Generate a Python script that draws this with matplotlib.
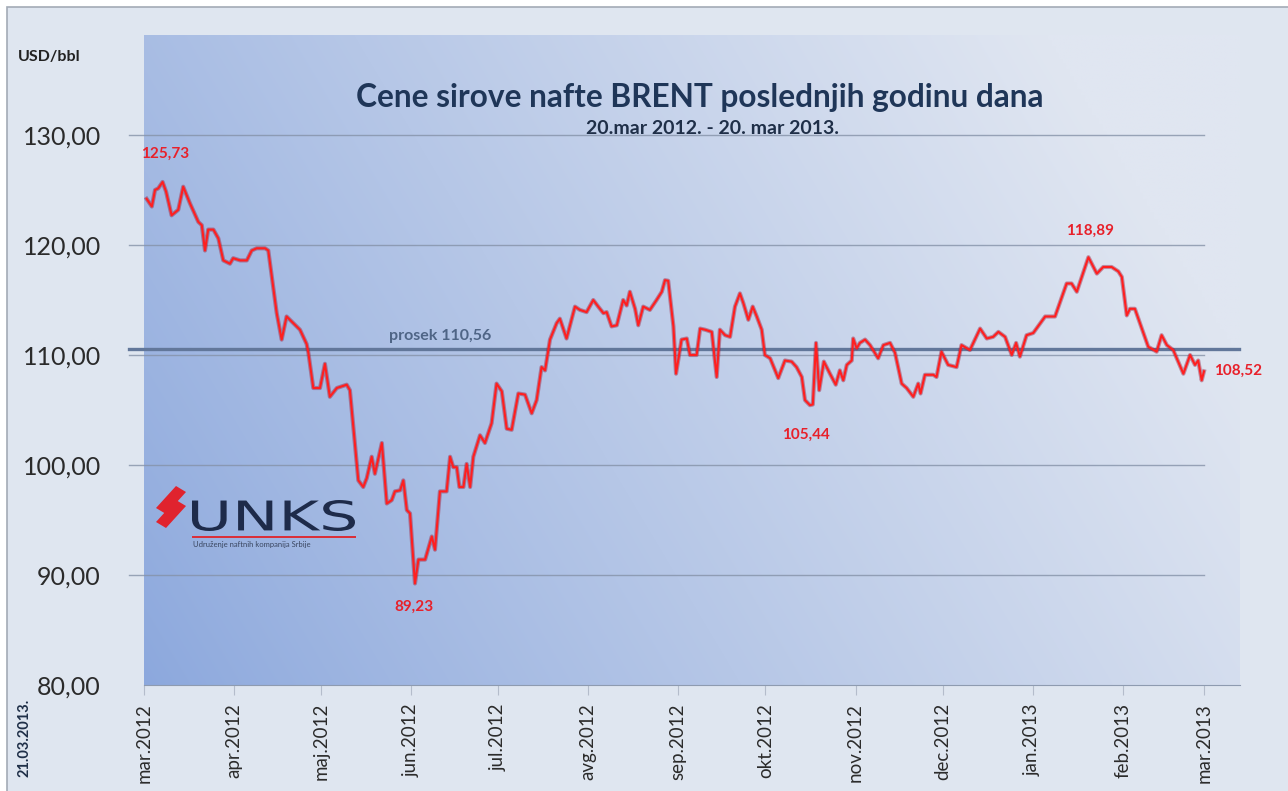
import numpy as np
import pandas as pd
import matplotlib
matplotlib.use('Agg')
import matplotlib.pyplot as plt
from matplotlib.patches import Rectangle, Polygon, PathPatch
from matplotlib.textpath import TextPath
from matplotlib.font_manager import FontProperties
from matplotlib.transforms import Affine2D, IdentityTransform

plt.rcParams['font.family'] = ['Lato', 'DejaVu Sans']

# days since 20.03.2012 and Brent price, USD/bbl
days = [0.9, 2.7, 3.8, 4.9, 6.4, 7.6, 9.5, 11.8, 13.5, 15.8, 18.7, 19.9, 21.0, 22.1, 23.9,
        25.6, 27.3, 29.6, 30.7, 33.1, 35.4, 37.1, 38.8, 41.7, 42.8, 44.5, 45.7, 47.4, 49.1,
        51.4, 53.7, 56.0, 56.6, 58.3, 60.6, 62.3, 64.0, 66.4, 69.8, 70.9, 73.8, 75.5, 76.7,
        78.4, 79.5, 81.9, 83.6, 85.3, 86.4, 88.2, 89.3, 90.5, 91.6, 93.3, 94.5, 96.8, 99.1,
        100.2, 101.9, 104.2, 105.4, 106.5, 107.7, 108.6, 110.0, 111.1, 112.3, 113.4, 115.7,
        117.4, 119.7, 121.4, 123.2, 124.9, 126.6, 128.9, 131.2, 133.5, 135.2, 136.9, 138.1,
        139.8, 142.1, 143.2, 145.5, 148.4, 150.1, 152.4, 154.7, 156.4, 158.2, 159.3, 161.0,
        162.8, 165.0, 166.2, 167.3, 169.1, 170.2, 171.9, 174.2, 176.5, 178.3, 179.4, 180.5,
        182.3, 183.2, 185.1, 186.9, 188.0, 190.3, 191.5, 193.2, 195.5, 197.2, 198.3, 200.1,
        201.8, 203.5, 205.2, 206.4, 208.1, 209.6, 211.0, 212.7, 213.8, 215.6, 218.4, 220.7,
        223.0, 224.7, 226.5, 227.6, 229.3, 230.3, 231.4, 232.5, 234.1, 236.2, 238.2, 239.6,
        240.8, 242.0, 243.7, 244.2, 245.4, 246.5, 248.3, 250.0, 252.8, 254.6, 256.9, 258.6,
        260.9, 262.6, 264.9, 266.6, 267.4, 268.9, 271.8, 272.9, 274.6, 276.9, 279.8, 281.5,
        284.4, 287.9, 290.2, 292.4, 294.2, 296.5, 298.8, 300.3, 301.6, 303.9, 306.2, 310.3,
        313.7, 317.7, 319.4, 321.2, 325.2, 328.1, 330.3, 333.2, 335.5, 336.7, 338.4, 339.5,
        341.2, 345.8, 348.7, 350.4, 352.2, 354.4, 357.9, 360.2, 361.9, 363.0, 364.2, 365.0]
price = [124.2, 123.5, 125.0, 125.15, 125.73, 124.85, 122.7, 123.2, 125.3, 123.8, 122.1, 121.8,
         119.5, 121.4, 121.4, 120.6, 118.6, 118.3, 118.8, 118.6, 118.6, 119.5, 119.7, 119.7,
         119.5, 116.2, 113.8, 111.4, 113.5, 112.9, 112.3, 111.0, 110.2, 107.0, 107.0, 109.2,
         106.2, 107.0, 107.3, 106.8, 98.6, 98.0, 98.8, 100.75, 99.2, 102.0, 96.5, 96.8, 97.6,
         97.7, 98.6, 95.9, 95.6, 89.23, 91.4, 91.4, 93.5, 92.3, 97.6, 97.6, 100.75, 99.8, 99.8,
         98.0, 98.0, 100.1, 98.0, 100.75, 102.7, 102.0, 103.8, 107.4, 106.7, 103.3, 103.2,
         106.5, 106.4, 104.7, 105.9, 108.9, 108.6, 111.4, 112.9, 113.3, 111.5, 114.4, 114.1,
         113.9, 115.0, 114.4, 113.8, 113.9, 112.6, 112.7, 115.0, 114.5, 115.75, 114.2, 112.7,
         114.4, 114.1, 115.0, 115.75, 116.8, 116.75, 112.6, 108.3, 111.4, 111.5, 110.0, 110.0,
         112.4, 112.3, 112.1, 108.0, 112.3, 111.8, 111.65, 114.4, 115.6, 114.7, 113.2, 114.4,
         113.5, 112.3, 110.0, 109.7, 107.9, 109.5, 109.4, 108.9, 108.0, 105.9, 105.44, 105.5,
         111.1, 106.8, 109.4, 108.3, 107.3, 108.6, 107.7, 109.1, 109.5, 111.5, 110.6, 111.1,
         111.4, 110.9, 109.7, 110.9, 111.1, 110.2, 107.4, 107.0, 106.2, 107.4, 106.5, 108.2,
         108.2, 108.0, 110.3, 109.1, 108.9, 110.9, 110.45, 112.4, 111.5, 111.65, 112.1, 111.65,
         110.0, 111.1, 109.85, 111.8, 112.0, 113.5, 113.5, 116.5, 116.5, 115.75, 118.89, 117.4,
         118.0, 118.0, 117.6, 117.1, 113.6, 114.2, 114.2, 110.75, 110.3, 111.8, 110.9, 110.45,
         108.3, 110.0, 109.1, 109.5, 107.7, 108.52]

average = 110.56
month_labels = ['mar.2012', 'apr.2012', 'maj.2012', 'jun.2012', 'jul.2012', 'avg.2012',
                'sep.2012', 'okt.2012', 'nov.2012', 'dec.2012', 'jan.2013', 'feb.2013',
                'mar.2013']
start = pd.Timestamp(2012, 3, 20)
month_days = [(start + pd.DateOffset(months=i) - start).days for i in range(len(month_labels))]

# labelled points: (index in data, label, offset in points, ha)
labels = [(4, '125,73', (1.5, 20), 'center'),
          (53, '89,23', (-1, -17), 'center'),
          (133, '105,44', (-3, -21), 'center'),
          (181, '118,89', (1, 19), 'center'),
          (len(price) - 1, '108,52', (7, 0), 'left')]

navy = '#1f3658'
red = '#ff1f1f'

fig = plt.figure(figsize=(12.88, 7.91), dpi=100, facecolor='white')

# outer frame of the chart area
fig.patches.append(Rectangle((7 / 1288, -0.02), 1.02, 1 - 7 / 791 + 0.02,
                             transform=fig.transFigure, facecolor='#dfe6f0',
                             edgecolor='#a3abb6', lw=1.2, zorder=-5))

ax = fig.add_axes([144 / 1288, 106 / 791, 1096 / 1288, 650 / 791])
ax.set_facecolor('none')

# gradient plot area
ny, nx = 200, 300
xn = np.linspace(0, 1, nx)[None, :]
yn = np.linspace(0, 1, ny)[:, None]
t = np.clip(0.85 * xn + 0.3 * yn, 0, 1) ** 0.9
c0 = np.array([140, 168, 221]) / 255
c1 = np.array([224, 230, 241]) / 255
grad = c0[None, None, :] * (1 - t[..., None]) + c1[None, None, :] * t[..., None]
ax.imshow(grad, extent=(0, 1, 0, 1), transform=ax.transAxes, origin='lower',
          aspect='auto', zorder=0, interpolation='bilinear')

xmax = 365 * 1096 / 1060
ax.set_xlim(0, xmax)
ax.set_ylim(80, 80 + 650 / 11)

# grid lines
for g in [90, 100, 110, 120, 130]:
    ax.plot([-5, 365], [g, g], color='#8592a8', lw=1, zorder=1, clip_on=False, alpha=0.8)

# average line
ax.plot([-5, 377], [average, average], color='#62779a', lw=2.4, zorder=2, clip_on=False)
ax.annotate('prosek 110,56', (102, average), xytext=(0, 9), textcoords='offset points',
            ha='center', va='center', color='#4f6586', fontsize=11.5, fontweight='bold')

# price line with a darker edge
ax.plot(days, price, color='#9c2040', lw=3.0, alpha=0.45, zorder=3, solid_joinstyle='round')
ax.plot(days, price, color=red, lw=1.5, zorder=4, solid_joinstyle='round')

for i, txt, off, ha in labels:
    ax.annotate(txt, (days[i], price[i]), xytext=off, textcoords='offset points',
                ha=ha, va='center', color='#e8202a', fontsize=11, fontweight='bold')

ax.set_yticks([80, 90, 100, 110, 120, 130])
ax.set_yticklabels(['80,00', '90,00', '100,00', '110,00', '120,00', '130,00'])
ax.set_xticks(month_days)
ax.set_xticklabels(month_labels, rotation=90)
ax.tick_params(axis='y', length=0, pad=31, labelsize=18, labelcolor='#2b2b2b')
ax.tick_params(axis='x', length=7, color='#b4bccb', pad=6, labelsize=13.5, labelcolor='#2b2b2b')
for s in ['top', 'right', 'left']:
    ax.spines[s].set_visible(False)
ax.spines['bottom'].set_color('#8e9bb0')

# titles
fig.text(700 / 1288, 1 - 97 / 791, 'Cene sirove nafte BRENT poslednjih godinu dana',
         ha='center', va='center', fontsize=22.8, fontweight='bold', color=navy)
fig.text(712 / 1288, 1 - 128 / 791, '20.mar 2012. - 20. mar 2013.',
         ha='center', va='center', fontsize=14, fontweight='bold', color='#1f2f48')
fig.text(18 / 1288, 1 - 57 / 791, 'USD/bbl', ha='left', va='center',
         fontsize=11.5, fontweight='bold', color='#222222')
fig.text(25 / 1288, 1 - 738 / 791, '21.03.2013.', ha='center', va='center', rotation=90,
         fontsize=10.5, fontweight='bold', color='#1f2f48')

# UNKS logo
H = 791
for dy in [0, 14]:
    fig.patches.append(Polygon([(156, H - 522 + dy), (176, H - 500 + dy), (186, H - 506 + dy),
                                (166, H - 528 + dy)],
                               closed=True, transform=IdentityTransform(),
                               facecolor='#e0232e', edgecolor='none', zorder=6))
tp = TextPath((0, 0), 'UNKS', size=1, prop=FontProperties(family='DejaVu Sans'))
ext = tp.get_extents()
sx = 163 / ext.width
sy = 31 / ext.height
tr = Affine2D().translate(-ext.x0, -ext.y0).scale(sx, sy).translate(192, H - 531)
fig.patches.append(PathPatch(tr.transform_path(tp), transform=IdentityTransform(),
                             facecolor='#1e2b4a', edgecolor='none', zorder=6))
fig.patches.append(Rectangle((192, H - 538), 164, 2.5, transform=IdentityTransform(),
                             facecolor='#d9303a', edgecolor='none', zorder=6))
fig.text(193 / 1288, 1 - 545 / H, 'Udruženje naftnih kompanija Srbije', ha='left',
         va='center', fontsize=5.5, color='#3a4660', zorder=6)

fig.savefig('out.png', dpi=100, facecolor=fig.get_facecolor())
